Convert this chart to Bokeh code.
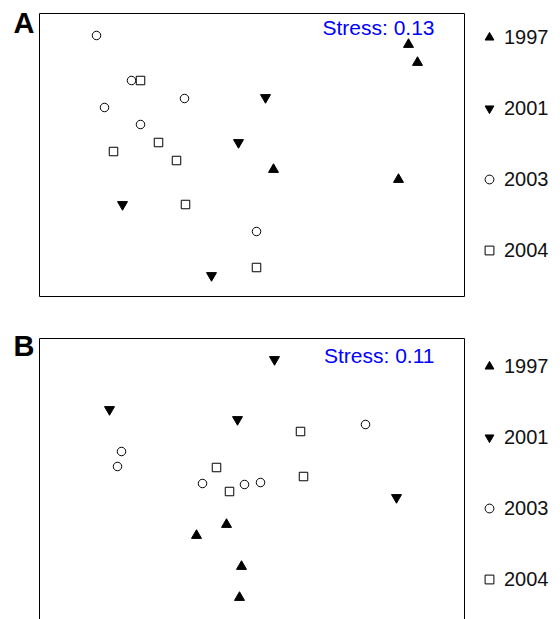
from bokeh.plotting import figure
from bokeh.models import Label, Legend, LegendItem, BoxAnnotation, Range1d
from bokeh.layouts import column
from bokeh.embed import file_html
from bokeh.resources import INLINE

FONT = "Liberation Sans"
years = ["1997", "2001", "2003", "2004"]
markers = ["triangle", "inverted_triangle", "circle", "square"]
fills = ["black", "black", "white", "white"]
sizes = [10, 10, 8.5, 8.5]

# Panel A (NMDS coordinates)
a_1997_x = [1.56, 1.65, 1.46, 0.21]
a_1997_y = [1.11, 0.93, -0.24, -0.14]
a_2001_x = [0.13, -0.14, -1.30, -0.41]
a_2001_y = [0.58, 0.13, -0.49, -1.20]
a_2003_x = [-1.56, -1.21, -1.48, -1.12, -0.68, 0.04]
a_2003_y = [1.20, 0.75, 0.48, 0.31, 0.57, -0.76]
a_2004_x = [-1.12, -1.39, -0.94, -0.76, -0.67, 0.04]
a_2004_y = [0.75, 0.04, 0.13, -0.05, -0.49, -1.12]
a_stress = "Stress: 0.13"
a_xlim = (-2.13, 2.12)
a_ylim = (-1.41, 1.42)

# Panel B (NMDS coordinates)
b_1997_x = [-0.26, -0.56, -0.11, -0.13]
b_1997_y = [-0.46, -0.57, -0.88, -1.19]
b_2001_x = [0.22, -1.43, -0.15, 1.44]
b_2001_y = [1.19, 0.69, 0.59, -0.19]
b_2003_x = [-1.31, -1.35, -0.50, -0.08, 0.08, 1.13]
b_2003_y = [0.27, 0.12, -0.05, -0.06, -0.04, 0.54]
b_2004_x = [-0.36, -0.23, 0.48, 0.51]
b_2004_y = [0.11, -0.13, 0.47, 0.02]
b_stress = "Stress: 0.11"
b_xlim = (-2.13, 2.12)
b_ylim = (-1.60, 1.40)


def panel(letter, xs, ys, stress, height, xr, yr, xlim, ylim,
          leg_y, stress_y, letter_y):
    p = figure(width=560, height=height, output_backend="svg", toolbar_location=None,
               x_axis_location=None, y_axis_location=None,
               x_range=Range1d(*xr), y_range=Range1d(*yr),
               min_border_left=0, min_border_right=0,
               min_border_top=0, min_border_bottom=0)
    p.grid.visible = False
    p.outline_line_color = None
    p.background_fill_color = "white"
    p.border_fill_color = "white"
    p.add_layout(BoxAnnotation(left=xlim[0], right=xlim[1], bottom=ylim[0], top=ylim[1],
                               fill_alpha=0, line_color="black", line_width=1, line_alpha=1))
    items = []
    for yr_lab, mk, fc, sz, x, y in zip(years, markers, fills, sizes, xs, ys):
        r = p.scatter(x, y, marker=mk, size=sz, fill_color=fc, line_color="black", line_width=1)
        items.append(LegendItem(label=yr_lab, renderers=[r]))
    leg = Legend(items=items, location=(478, leg_y), orientation="vertical",
                 glyph_width=22, glyph_height=24, label_height=24, label_standoff=4,
                 spacing=47, padding=0, margin=0,
                 label_text_font=FONT, label_text_font_size="20px", label_text_color="#111111",
                 border_line_color=None, background_fill_alpha=0)
    p.add_layout(leg, "center")
    p.add_layout(Label(x=434, y=stress_y, x_units="screen", y_units="screen", text=stress,
                       text_align="right", text_baseline="middle",
                       text_font=FONT, text_font_size="21px", text_color="#0000FF"))
    p.add_layout(Label(x=13, y=letter_y, x_units="screen", y_units="screen", text=letter,
                       text_align="left", text_baseline="middle",
                       text_font=FONT, text_font_size="29px", text_font_style="bold",
                       text_color="black"))
    return p


pa = panel("A", [a_1997_x, a_2001_x, a_2003_x, a_2004_x], [a_1997_y, a_2001_y, a_2003_y, a_2004_y],
           a_stress, 322, (-2.52, 3.08), (-1.67, 1.55), a_xlim, a_ylim, 60, 295, 300)
pb = panel("B", [b_1997_x, b_2001_x, b_2003_x, b_2004_x], [b_1997_y, b_2001_y, b_2003_y, b_2004_y],
           b_stress, 297, (-2.52, 3.08), (-1.41, 1.56), b_xlim, b_ylim, 28, 264, 274)

layout = column(pa, pb, spacing=0)
open("out.html", "w").write(file_html(layout, INLINE))
